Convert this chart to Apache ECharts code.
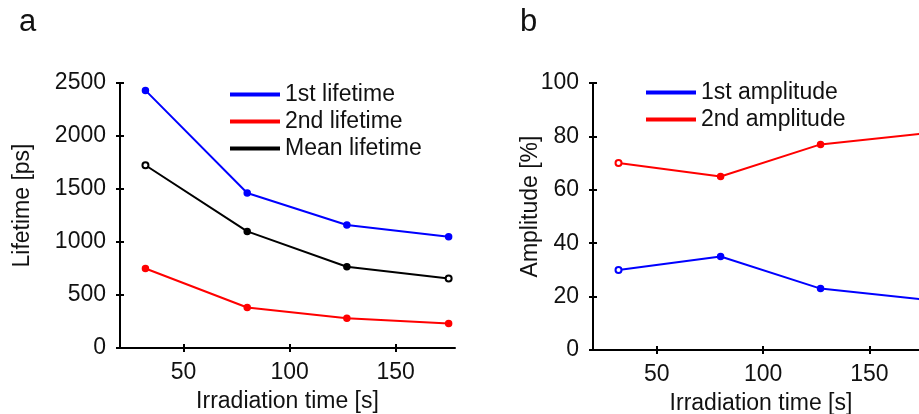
<!DOCTYPE html>
<html>
<head>
<meta charset="utf-8">
<script src="https://cdn.jsdelivr.net/npm/echarts@6/dist/echarts.min.js"></script>
<style>
  html, body { margin: 0; padding: 0; background: #fff; }
  #charts { width: 919px; height: 414px; }
</style>
</head>
<body>
<div id="charts"></div>
<script>
// The container we're going to put it in
var chart = echarts.init(document.getElementById('charts'));

// irradiation times, shared by both panels
var times = [32, 80, 127, 175];

// panel a, lifetimes in ps
var lifetime1 = [2430, 1462, 1160, 1050];
var lifetime2 = [750, 382, 281, 231];
var lifetimeMean = [1724, 1100, 766, 656];

// panel b, amplitudes in %
var amplitude1 = [30, 35, 23, 19];
var amplitude2 = [70, 65, 77, 81];

var xTicks = [50, 100, 150];

var font = 'Liberation Sans, Arial, sans-serif';
var fontSize = 23;
var axisColor = '#000';

// pair x with y, some markers are drawn hollow in the original
function pairs(ys, hollow) {
    var out = [], i = 0;
    for (i; i < ys.length; i++) {
        var item = { value: [times[i], ys[i]] };
        if (hollow.indexOf(i) > -1) {
            item.symbol = 'emptyCircle';
        }
        out.push(item);
    }
    return out;
}

function makeLine(name, color, ys, hollow, axisIdx) {
    return {
        name: name,
        type: 'line',
        xAxisIndex: axisIdx,
        yAxisIndex: axisIdx,
        data: pairs(ys, hollow),
        symbol: 'circle',
        symbolSize: 6,
        lineStyle: { color: color, width: 2 },
        itemStyle: { color: color, borderColor: color, borderWidth: 1.5 },
        emphasis: { disabled: true },
        z: 3
    };
}

// main axes carry the labels and inner ticks, ghost axes add the outer half of the ticks
function xAxisPair(grid) {
    var base = {
        type: 'value',
        gridIndex: grid,
        position: 'bottom',
        min: 20,
        max: 178,
        interval: 50,
        splitLine: { show: false }
    };
    var main = Object.assign({}, base, {
        name: 'Irradiation time [s]',
        nameLocation: 'middle',
        nameGap: 42,
        nameTextStyle: { color: '#111', fontSize: fontSize, fontFamily: font },
        axisLine: { show: true, lineStyle: { color: axisColor, width: 2 } },
        axisTick: { show: true, inside: true, length: 4, lineStyle: { color: axisColor, width: 2 }, customValues: xTicks },
        axisLabel: { color: '#111', fontSize: fontSize, fontFamily: font, margin: 13, customValues: xTicks }
    });
    var ghost = Object.assign({}, base, {
        axisLine: { show: false },
        axisTick: { show: true, inside: false, length: 4, lineStyle: { color: axisColor, width: 2 }, customValues: xTicks },
        axisLabel: { show: false }
    });
    return [main, ghost];
}

function yAxisPair(grid, name, max, interval, gap) {
    var base = {
        type: 'value',
        gridIndex: grid,
        position: 'left',
        min: 0,
        max: max,
        interval: interval,
        splitLine: { show: false }
    };
    var main = Object.assign({}, base, {
        name: name,
        nameLocation: 'middle',
        nameGap: gap,
        nameMoveOverlap: false,
        nameTextStyle: { color: '#111', fontSize: fontSize, fontFamily: font, padding: [0, 0, 0, 20] },
        axisLine: { show: true, lineStyle: { color: axisColor, width: 2 } },
        axisTick: { show: true, inside: false, length: 4, lineStyle: { color: axisColor, width: 2 } },
        axisLabel: {
            color: '#111', fontSize: fontSize, fontFamily: font, margin: 14,
            formatter: function (v) { return String(v); }
        }
    });
    var ghost = Object.assign({}, base, {
        axisLine: { show: false },
        axisTick: { show: true, inside: true, length: 4, lineStyle: { color: axisColor, width: 2 } },
        axisLabel: { show: false }
    });
    return [main, ghost];
}

var xa = xAxisPair(0), xb = xAxisPair(1);
var ya = yAxisPair(0, 'Lifetime [ps]', 2500, 500, 86);
var yb = yAxisPair(1, 'Amplitude [%]', 100, 20, 51);

var legendText = { fontSize: fontSize, color: '#111', fontFamily: font, lineHeight: 27, padding: [0, 0, 0, 1] };

var option = {
    animation: false,
    textStyle: { fontFamily: font },
    title: [
        { text: 'a', left: 14, top: 2, textStyle: { fontSize: 31, fontWeight: 'normal', color: '#111', fontFamily: font } },
        { text: 'b', left: 515, top: 2, textStyle: { fontSize: 31, fontWeight: 'normal', color: '#111', fontFamily: font } }
    ],
    grid: [
        { left: 120, right: 464, top: 83, bottom: 66, outerBoundsMode: 'none' },
        { left: 593, right: -10, top: 83, bottom: 64, outerBoundsMode: 'none' }
    ],
    legend: [
        {
            data: ['1st lifetime', '2nd lifetime', 'Mean lifetime'],
            orient: 'vertical',
            left: 230,
            top: 81,
            padding: 0,
            icon: 'rect',
            itemWidth: 48,
            itemHeight: 2,
            itemGap: 0,
            textStyle: legendText
        },
        {
            data: ['1st amplitude', '2nd amplitude'],
            orient: 'vertical',
            left: 646,
            top: 79,
            padding: 0,
            icon: 'rect',
            itemWidth: 48,
            itemHeight: 2,
            itemGap: 0,
            textStyle: legendText
        }
    ],
    xAxis: [xa[0], xb[0], xa[1], xb[1]],
    yAxis: [ya[0], yb[0], ya[1], yb[1]],
    series: [
        makeLine('1st lifetime', '#0000ff', lifetime1, [], 0),
        makeLine('2nd lifetime', '#ff0000', lifetime2, [], 0),
        makeLine('Mean lifetime', '#000000', lifetimeMean, [0, 3], 0),
        makeLine('1st amplitude', '#0000ff', amplitude1, [0], 1),
        makeLine('2nd amplitude', '#ff0000', amplitude2, [0], 1)
    ]
};

chart.setOption(option);
</script>
</body>
</html>
